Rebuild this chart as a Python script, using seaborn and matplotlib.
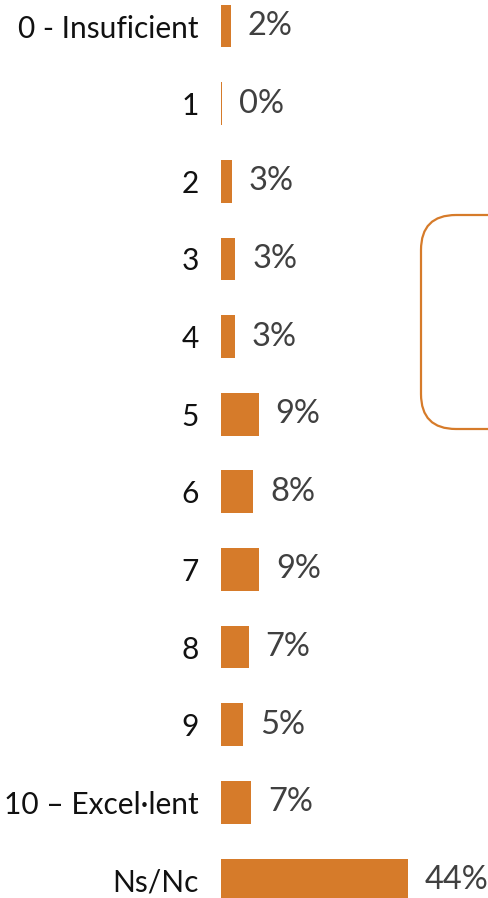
import matplotlib
matplotlib.use('Agg')
import matplotlib.pyplot as plt
from matplotlib.patches import FancyBboxPatch
import seaborn as sns
import pandas as pd

# dades llegides del grafic
categories = ['0 - Insuficient', '1', '2', '3', '4', '5', '6', '7', '8', '9',
              '10 \u2013 Excel\u00b7lent', 'Ns/Nc']
values = [2.4, 0.3, 2.6, 3.4, 3.2, 8.9, 7.6, 9.0, 6.6, 5.2, 7.1, 44.0]

orange = '#D67B2A'
grey = '#404040'

sns.set_theme(style='white')
plt.rcParams['font.family'] = ['Lato', 'DejaVu Sans']

df = pd.DataFrame({'categoria': categories, 'valor': values})

fig = plt.figure(figsize=(4.89, 8.98), dpi=100)
ax = fig.add_axes([221 / 489, 0, 268 / 489, 1])

sns.barplot(data=df, x='valor', y='categoria', order=categories,
            color=orange, saturation=1, width=0.55, linewidth=0, ax=ax)

ax.bar_label(ax.containers[0], labels=[f'{v:.0f}%' for v in values],
             padding=12, fontsize=23.5, color=grey)

ax.set_xlim(0, 268 / 4.24)
ax.set_ylim(11.232, -0.335)
ax.set_xlabel('')
ax.set_ylabel('')
ax.set_xticks([])
ax.tick_params(axis='y', length=0, pad=16, labelsize=21.5, labelcolor='#111111')
sns.despine(ax=ax, left=True, bottom=True)
ax.patch.set_alpha(0)

# caixa arrodonida a la dreta
ax2 = fig.add_axes([0, 0, 1, 1], zorder=-1)
ax2.set_xlim(0, 489)
ax2.set_ylim(898, 0)
ax2.axis('off')
box = FancyBboxPatch((421, 215), 150, 214,
                     boxstyle='round,pad=0,rounding_size=35',
                     fill=False, edgecolor=orange, linewidth=1.6)
ax2.add_patch(box)

fig.savefig('out.png', dpi=100)
